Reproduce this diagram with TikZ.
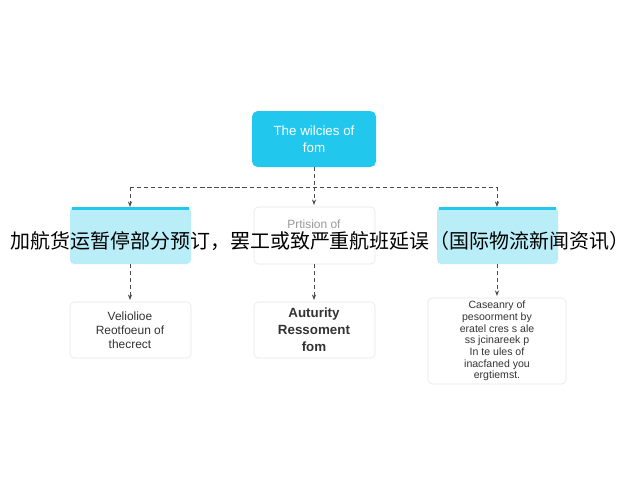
\documentclass[tikz,border=0pt]{standalone}
\usepackage{fontspec}
\setmainfont{Liberation Sans}
\newfontfamily\cjk{Noto Sans CJK SC}
\usetikzlibrary{arrows.meta}
\definecolor{cy}{HTML}{22C7EE}
\definecolor{lc}{HTML}{B9EEF9}
\definecolor{bd}{HTML}{E2E6EA}
\definecolor{tx}{HTML}{333333}
\tikzset{
 box/.style={align=center,font=\fontsize{8.5}{10}\selectfont,text=tx},
 conn/.style={densely dashed,line width=0.7pt,draw=black!70,-{Stealth[length=4pt]}},
 bus/.style={densely dashed,line width=0.7pt,draw=black!70}
}
\begin{document}
\begin{tikzpicture}[x=0.025cm,y=-0.025cm]
\useasboundingbox[fill=white] (0,0) rectangle (640,480);
\fill[rounded corners=4pt,cy] (252,111) rectangle (376,167);
\node[font=\fontsize{9.5}{12}\selectfont,text=white,align=center] (top) at (314,139) {The wilcies of\\ fom};
\coordinate (topb) at (314,167);
\fill[rounded corners=3pt,lc] (70,207) rectangle (191,264);
\fill[cy] (72,207) rectangle (189,210);
\fill[rounded corners=3pt,lc] (437,207) rectangle (558,264);
\fill[cy] (439,207) rectangle (556,210);
\draw[bd,rounded corners=3pt,fill=white] (254,207) rectangle (375,264);
\node[font=\fontsize{8.5}{9}\selectfont,text=black!40] (m) at (314,224) {Prtision of};
\coordinate (l) at (130,207);
\coordinate (r) at (497,207);
\coordinate (lb) at (130,264);
\coordinate (mb) at (314,264);
\coordinate (rb) at (497,264);
\coordinate (bl) at (130,187);
\coordinate (br) at (497,187);
\coordinate (bm) at (314,187);
\draw[bus] (topb) -- (bm);
\draw[bus] (bl) -- (br);
\draw[conn] (bl) -- (l);
\draw[conn] (bm) -- (314,205);
\draw[conn] (br) -- (r);
\draw[bd,rounded corners=3pt,fill=white] (70,302) rectangle (191,358);
\draw[bd,rounded corners=3pt,fill=white] (254,302) rectangle (375,358);
\draw[bd,rounded corners=3pt,fill=white] (428,298) rectangle (566,384);
\node[box] (t1) at (130,330) {Veliolioe\\Reotfoeun of\\thecrect};
\node[box,font=\bfseries\fontsize{9.5}{12}\selectfont] (t2) at (314,330) {Auturity\\Ressoment\\fom};
\node[box,font=\fontsize{7.5}{8.3}\selectfont] (t3) at (497,341) {Caseanry of\\pesoorment by\\eratel cres s ale\\ss jcinareek p\\In te ules of\\inacfaned you\\ergtiemst.};
\coordinate (t1t) at (130,300);
\coordinate (t2t) at (314,300);
\coordinate (t3t) at (497,296);
\draw[conn] (lb) -- (t1t);
\draw[conn] (mb) -- (t2t);
\draw[conn] (rb) -- (t3t);
\node[font=\cjk\fontsize{14.2}{16}\selectfont,text=black,inner sep=0] (cn) at (320,241) {加航货运暂停部分预订，罢工或致严重航班延误（国际物流新闻资讯）};
\end{tikzpicture}
\end{document}
